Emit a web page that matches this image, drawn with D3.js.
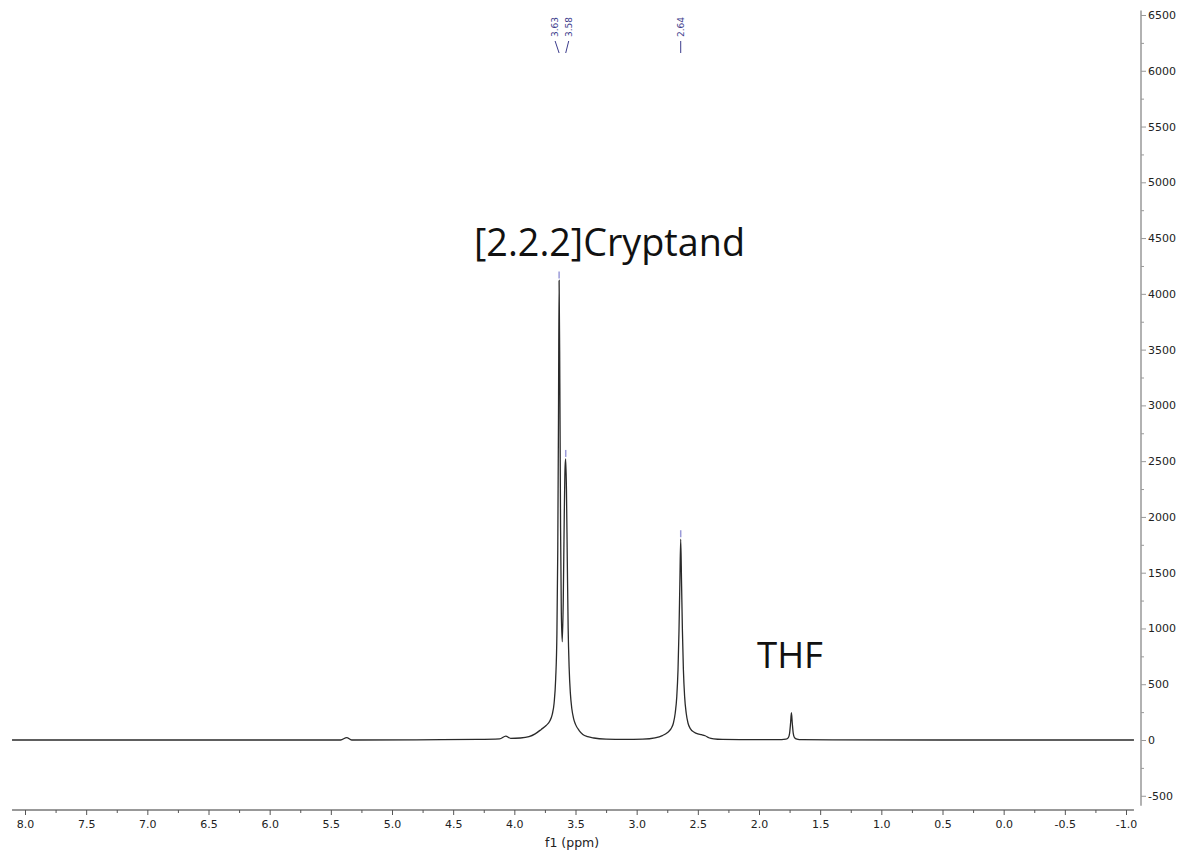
<!DOCTYPE html>
<html>
<head>
<meta charset="utf-8">
<script src="https://cdn.jsdelivr.net/npm/d3@7"></script>
<style>
body { margin: 0; background: #fff; }
</style>
</head>
<body>
<div id="nmr"></div>
<script>
// spectrum trace: chemical shift (ppm) and intensity
var shift = [8.106, 7.00, 6.00, 5.42, 5.37, 5.33, 4.80, 4.30, 4.12, 4.07, 4.03, 3.95, 3.88, 3.83, 3.78, 3.74, 3.71, 3.69,
    3.675, 3.662, 3.652, 3.645, 3.639, 3.634, 3.628, 3.622, 3.616, 3.608, 3.600, 3.592, 3.585, 3.580, 3.574, 3.567,
    3.560, 3.552, 3.542, 3.530, 3.515, 3.50, 3.47, 3.44, 3.40, 3.35, 3.25, 3.10, 2.95, 2.85, 2.79, 2.75, 2.72, 2.70,
    2.685, 2.672, 2.662, 2.654, 2.647, 2.640, 2.633, 2.626, 2.618, 2.608, 2.595, 2.58, 2.56, 2.53, 2.50, 2.47, 2.44,
    2.41, 2.37, 2.30, 2.10, 1.85, 1.78, 1.76, 1.750, 1.742, 1.735, 1.728, 1.720, 1.71, 1.69, 1.65, 1.40, 0.50, -0.50, -1.065];
var intensity = [0, 0, 0, 0, 22, 0, 2, 5, 10, 35, 15, 18, 30, 55, 95, 130, 170, 230,
    330, 550, 950, 1700, 2900, 4120, 3200, 1900, 1150, 880, 1250, 2000, 2450, 2520, 2250, 1600,
    1000, 650, 420, 280, 190, 140, 85, 50, 30, 18, 8, 5, 8, 20, 40, 65, 100, 150,
    240, 390, 630, 980, 1400, 1800, 1400, 980, 630, 390, 240, 150, 100, 70, 55, 48, 38,
    20, 10, 5, 3, 3, 8, 22, 60, 150, 245, 150, 60, 22, 8, 3, 1, 0, 0, 0];

// axes
var xTicks = [8.0, 7.5, 7.0, 6.5, 6.0, 5.5, 5.0, 4.5, 4.0, 3.5, 3.0, 2.5, 2.0, 1.5, 1.0, 0.5, 0.0, -0.5, -1.0];
var yTicks = [-500, 0, 500, 1000, 1500, 2000, 2500, 3000, 3500, 4000, 4500, 5000, 5500, 6000, 6500];

// picked peaks
var peakShift = [3.634, 3.580, 2.640];
var peakTop = [4120, 2520, 1800];
var peakText = ["3.63", "3.58", "2.64"];

var width = 1181, height = 854;

var svg = d3.select('#nmr').append('svg')
    .attr('width', width)
    .attr('height', height)
    .style('display', 'block');

svg.append('rect').attr('width', width).attr('height', height).attr('fill', '#fff');

var x = d3.scaleLinear().domain([8.0, -1.0]).range([25, 1126]);
var y = d3.scaleLinear().domain([0, 6500]).range([740, 15]);

var tickFont = '"DejaVu Sans", Verdana, sans-serif';
// plain hyphen for negatives, like the original
function fmt(f) { return function (d) { return f(d).replace('\u2212', '-'); }; }

// x axis (ppm runs right to left)
var xAxis = svg.append('g')
    .attr('transform', 'translate(0,810)')
    .call(d3.axisBottom(x).tickValues(xTicks).tickSize(5).tickPadding(5)
        .tickFormat(fmt(d3.format('.1f'))));
xAxis.select('.domain').attr('d', 'M' + x(8.106) + ',0H' + x(-1.065)).attr('stroke', '#333');
xAxis.selectAll('.tick line').attr('stroke', '#555');
xAxis.selectAll('.tick text').attr('font-family', tickFont).attr('font-size', 11).attr('fill', '#222');

var xMinor = d3.range(8.0, -1.01, -0.25).filter(function (d) { return Math.abs(d * 2 - Math.round(d * 2)) > 0.01; });
svg.append('g')
    .attr('transform', 'translate(0,810)')
    .call(d3.axisBottom(x).tickValues(xMinor).tickSize(3).tickFormat(''))
    .call(function (g) { g.select('.domain').remove(); })
    .selectAll('.tick line').attr('stroke', '#555');

svg.append('text')
    .attr('x', 545)
    .attr('y', 847)
    .attr('font-family', tickFont)
    .attr('font-size', 12.5)
    .attr('fill', '#222')
    .text('f1 (ppm)');

// y axis on the right
var yAxis = svg.append('g')
    .attr('transform', 'translate(1141,0)')
    .call(d3.axisRight(y).tickValues(yTicks).tickSize(5).tickPadding(2).tickFormat(fmt(d3.format('d'))));
yAxis.select('.domain').attr('d', 'M0,' + y(6540) + 'V' + y(-590)).attr('stroke', '#999').attr('stroke-width', 1.5);
yAxis.selectAll('.tick line').attr('stroke', '#999');
yAxis.selectAll('.tick text').attr('font-family', tickFont).attr('font-size', 11).attr('fill', '#222');

var yMinor = d3.range(-250, 6500, 500);
svg.append('g')
    .attr('transform', 'translate(1141,0)')
    .call(d3.axisRight(y).tickValues(yMinor).tickSize(3).tickFormat(''))
    .call(function (g) { g.select('.domain').remove(); })
    .selectAll('.tick line').attr('stroke', '#999');

// spectrum
var pts = shift.map(function (d, i) { return [d, intensity[i]]; });
var line = d3.line()
    .x(function (d) { return x(d[0]); })
    .y(function (d) { return y(d[1]); })
    .curve(d3.curveMonotoneX);

svg.append('path')
    .datum(pts)
    .attr('d', line)
    .attr('fill', 'none')
    .attr('stroke', '#2a2a2a')
    .attr('stroke-width', 1.3);

// peak markers on top of picked peaks
svg.selectAll('.pmark')
    .data(peakShift)
    .enter().append('line')
    .attr('class', 'pmark')
    .attr('x1', function (d) { return x(d); })
    .attr('x2', function (d) { return x(d); })
    .attr('y1', function (d, i) { return y(peakTop[i]) - 9; })
    .attr('y2', function (d, i) { return y(peakTop[i]) - 2; })
    .attr('stroke', '#9a9ad8')
    .attr('stroke-width', 1.5);

// peak labels at the top
var labelX = [x(3.634) - 4, x(3.580) + 3, x(2.640)];
var blue = '#3c3c8c';
var pl = svg.selectAll('.plabel')
    .data(peakText)
    .enter().append('g')
    .attr('class', 'plabel');
pl.append('text')
    .attr('transform', function (d, i) { return 'translate(' + (labelX[i] + 3) + ',37) rotate(-90)'; })
    .attr('font-family', tickFont)
    .attr('font-size', 9)
    .attr('fill', blue)
    .text(function (d) { return d; });
pl.append('path')
    .attr('d', function (d, i) {
        var px = x(peakShift[i]);
        return 'M' + labelX[i] + ',41L' + px + ',53';
    })
    .attr('fill', 'none')
    .attr('stroke', blue)
    .attr('stroke-width', 1);

// annotations
var crypt = svg.append('text')
    .attr('x', 474)
    .attr('y', 256)
    .attr('font-family', '"Open Sans", "Noto Sans", sans-serif')
    .attr('font-size', 34)
    .attr('fill', '#111')
    .text('[2.2.2]Cryptand');
var cw = crypt.node().getComputedTextLength();
crypt.attr('font-size', 34 * 271 / cw);

var thf = svg.append('text')
    .attr('x', 757)
    .attr('y', 668)
    .attr('font-family', '"Open Sans", "Noto Sans", sans-serif')
    .attr('font-size', 34)
    .attr('fill', '#111')
    .text('THF');
var tw = thf.node().getComputedTextLength();
thf.attr('font-size', 34 * 66 / tw);
</script>
</body>
</html>
